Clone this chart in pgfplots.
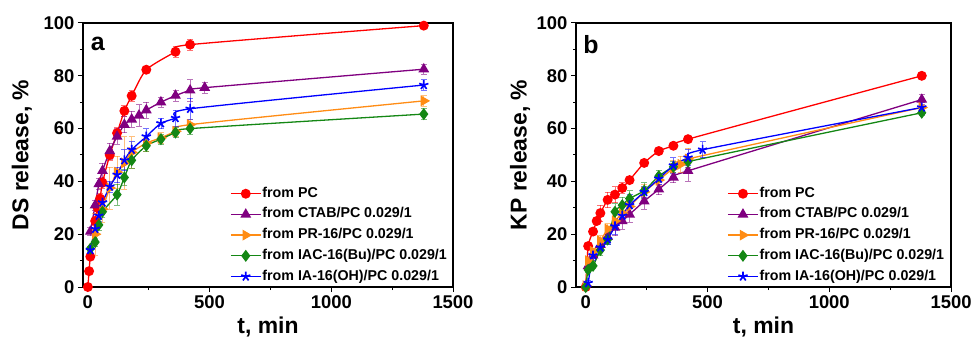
\documentclass[border=0pt]{standalone}
\usepackage{pgfplots}
\pgfplotsset{compat=1.18}
\usepackage{fontspec}
\setmainfont{Liberation Sans}
\definecolor{cred}{RGB}{255,0,0}
\definecolor{cpur}{RGB}{128,0,128}
\definecolor{cora}{RGB}{255,140,20}
\definecolor{cgre}{RGB}{20,135,20}
\definecolor{cblu}{RGB}{0,0,255}
\pgfplotsset{
  panel/.style={
    scale only axis, height=264bp,
    ymin=0, ymax=100, xmax=1500,
    xtick={0,500,1000,1500}, ytick={0,20,40,60,80,100},
    minor x tick num=1, minor y tick num=1,
    tick align=outside, xtick pos=bottom, ytick pos=left,
    axis line style={line width=1.1bp},
    every tick/.style={black, line width=1bp},
    major tick length=5bp, minor tick length=3bp,
    /pgf/number format/assume math mode=true,
    /pgf/number format/1000 sep={},
    ticklabel style={font=\bfseries\fontsize{18.5}{20}\selectfont},
    label style={font=\bfseries\fontsize{23}{25}\selectfont},
    xlabel={t, min},
    xlabel style={at={(axis description cs:0.5,-0.152)}, anchor=center},
    legend style={draw=none, fill=none, anchor=north west,
      font=\bfseries\fontsize{14.3}{16}\selectfont,
      nodes={inner sep=1bp, text height=10bp, text depth=3bp}, row sep=5.7bp},
    legend cell align=left,
    legend image code/.code={\draw[mark repeat=2,mark phase=2] plot coordinates {(0bp,0bp) (15bp,0bp) (30bp,0bp)};},
    every axis plot/.append style={line width=1.3bp, smooth, tension=0.4,
      error bars/y dir=both, error bars/y explicit,
      error bars/error bar style={line width=0.7bp, opacity=0.55},
      error bars/error mark options={rotate=90, mark size=3bp, line width=0.7bp, opacity=0.55}},
  },
  sred/.style={color=cred, mark=*, mark size=4.3bp, mark options={solid}},
  spur/.style={color=cpur, mark=triangle*, mark size=5bp},
  sora/.style={color=cora, mark=triangle*, mark size=5bp, mark options={rotate=-90}},
  sgre/.style={color=cgre, mark=diamond*, mark size=5bp},
  sblu/.style={color=cblu, mark=star, mark size=4.8bp, mark options={line width=1.7bp}},
}
\begin{document}
\begin{tikzpicture}
\useasboundingbox (0,0) rectangle (973bp,339bp);
\begin{axis}[panel, at={(83bp,52bp)}, anchor=south west, width=370bp, xmin=-20,
  ylabel={DS release, \%},
  ylabel style={at={(axis description cs:-0.165,0.5)}, anchor=center},
  legend style={at={(0.389,0.39)}}]
\addplot[sred] coordinates {(0,0) +- (0,0) (5,6) +- (0,1) (10,11.5) +- (0,1) (30,25) +- (0,1.5) (40,30) +- (0,2) (50,33.5) +- (0,2) (60,39.5) +- (0,2) (90,50) +- (0,2) (120,58.3) +- (0,2) (150,66.7) +- (0,2) (180,72.4) +- (0,2) (240,82.3) +- (0,1) (360,89.1) +- (0,2) (420,91.8) +- (0,2) (1380,99) +- (0,1)};
\addplot[spur] coordinates {(10,21) +- (0,1.5) (30,31) +- (0,2) (45,39) +- (0,2) (60,44) +- (0,3) (90,51.5) +- (0,3) (120,57) +- (0,3) (150,61.5) +- (0,3) (180,63.5) +- (0,3) (210,65) +- (0,4) (240,67) +- (0,3) (300,70) +- (0,2) (360,72.5) +- (0,2) (420,74.5) +- (0,4) (480,75.5) +- (0,2) (1380,82.5) +- (0,2)};
\addplot[sora] coordinates {(30,20) +- (0,8) (60,29.5) +- (0,5) (90,37.5) +- (0,8) (120,43.5) +- (0,6) (150,47) +- (0,10) (180,51) +- (0,6) (240,54.5) +- (0,3) (300,56.5) +- (0,2) (360,59) +- (0,2) (420,61.5) +- (0,2) (1380,70.5) +- (0,2)};
\addplot[sgre] coordinates {(10,14.5) +- (0,1) (30,17) +- (0,1.5) (45,23.5) +- (0,2) (60,28.5) +- (0,2) (120,35) +- (0,4) (150,41.5) +- (0,3) (180,48) +- (0,3) (240,53.5) +- (0,2) (300,56) +- (0,2) (360,58.5) +- (0,2) (420,60) +- (0,2) (1380,65.5) +- (0,2)};
\addplot[sblu] coordinates {(10,14) +- (0,1) (30,22) +- (0,2) (45,27) +- (0,2) (60,32) +- (0,2) (90,38) +- (0,2) (120,42.5) +- (0,3) (150,48) +- (0,4) (180,52) +- (0,3) (240,57) +- (0,3) (300,62) +- (0,2) (360,64) +- (0,3) (420,67.5) +- (0,4) (1380,76.5) +- (0,2)};
\legend{from PC, from CTAB/PC 0.029/1, from PR-16/PC 0.029/1, from IAC-16(Bu)/PC 0.029/1, from IA-16(OH)/PC 0.029/1}
\node[font=\bfseries\fontsize{25}{27}\selectfont, anchor=center] at (axis description cs:0.04,0.92) {a};
\end{axis}
\begin{axis}[panel, at={(576bp,52bp)}, anchor=south west, width=375bp, xmin=-40,
  ylabel={KP release, \%},
  ylabel style={at={(axis description cs:-0.149,0.5)}, anchor=center},
  legend style={at={(0.395,0.39)}}]
\addplot[sred] coordinates {(0,0) +- (0,0) (10,15.5) +- (0,1) (30,21) +- (0,1) (45,25) +- (0,1) (60,28) +- (0,3) (90,33) +- (0,3) (120,35) +- (0,3) (150,37.5) +- (0,2) (180,40.5) +- (0,1) (240,47) +- (0,1) (300,51.5) +- (0,1) (360,53.5) +- (0,1) (420,56) +- (0,1) (1380,80) +- (0,1)};
\addplot[spur] coordinates {(10,8) +- (0,2) (30,12) +- (0,2) (60,16) +- (0,2) (90,19) +- (0,2) (120,22.5) +- (0,3) (150,25) +- (0,3) (180,27.5) +- (0,3) (240,32.5) +- (0,3) (300,37) +- (0,2) (360,41.5) +- (0,2) (420,44) +- (0,4) (1380,71) +- (0,2)};
\addplot[sora] coordinates {(0,0.5) +- (0,0) (10,10) +- (0,1) (30,13.5) +- (0,1) (60,17.5) +- (0,2) (90,22) +- (0,2) (120,25) +- (0,2) (150,28) +- (0,3) (180,30.5) +- (0,3) (240,36) +- (0,3) (300,40.5) +- (0,2) (360,45) +- (0,3) (390,46.5) +- (0,3) (420,48.5) +- (0,4) (1380,68) +- (0,2)};
\addplot[sgre] coordinates {(0,0) +- (0,0) (10,6.5) +- (0,1) (30,8) +- (0,1) (60,14) +- (0,2) (90,18) +- (0,2) (120,28.5) +- (0,3) (150,31) +- (0,3) (180,33.5) +- (0,3) (240,36.5) +- (0,3) (300,42) +- (0,2) (360,45.5) +- (0,2) (420,47.5) +- (0,2) (1380,66) +- (0,1)};
\addplot[sblu] coordinates {(10,1.5) +- (0,1) (30,12) +- (0,2) (60,15) +- (0,2) (90,18) +- (0,2) (120,23) +- (0,3) (150,27) +- (0,3) (180,31) +- (0,4) (240,36) +- (0,2) (300,41) +- (0,2) (360,46) +- (0,3) (420,49) +- (0,3) (480,52) +- (0,3) (1380,68) +- (0,2)};
\legend{from PC, from CTAB/PC 0.029/1, from PR-16/PC 0.029/1, from IAC-16(Bu)/PC 0.029/1, from IA-16(OH)/PC 0.029/1}
\node[font=\bfseries\fontsize{25}{27}\selectfont, anchor=center] at (axis description cs:0.04,0.92) {b};
\end{axis}
\end{tikzpicture}
\end{document}
